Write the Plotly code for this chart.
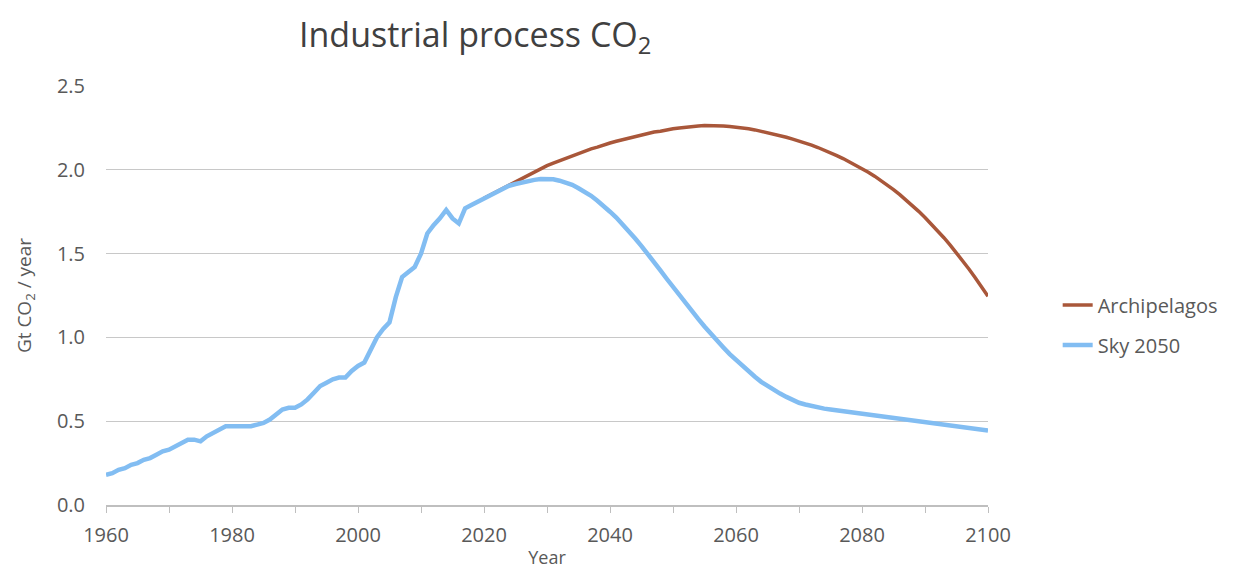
import plotly.graph_objects as go

years_sky = list(range(1960, 2101))
sky_2050 = [
    0.18, 0.19, 0.21, 0.22, 0.24, 0.25, 0.27, 0.28, 0.30, 0.32,  # 1960s
    0.33, 0.35, 0.37, 0.39, 0.39, 0.38, 0.41, 0.43, 0.45, 0.47,  # 1970s
    0.47, 0.47, 0.47, 0.47, 0.48, 0.49, 0.51, 0.54, 0.57, 0.58,  # 1980s
    0.58, 0.60, 0.63, 0.67, 0.71, 0.73, 0.75, 0.76, 0.76, 0.80,  # 1990s
    0.83, 0.85, 0.93, 1.00, 1.05, 1.09, 1.24, 1.36, 1.39, 1.42,  # 2000s
    1.50, 1.62, 1.67, 1.71, 1.76, 1.71, 1.68, 1.77, 1.79, 1.81,  # 2010s
    1.83, 1.85, 1.87, 1.89, 1.905, 1.915, 1.925, 1.935, 1.94, 1.945,  # 2020s
    1.945, 1.943, 1.935, 1.925, 1.91, 1.89, 1.87, 1.845, 1.815, 1.785,  # 2030s
    1.75, 1.715, 1.675, 1.635, 1.59, 1.545, 1.50, 1.45, 1.40, 1.35,  # 2040s
    1.30, 1.25, 1.20, 1.155, 1.11, 1.065, 1.02, 0.98, 0.94, 0.90,  # 2050s
    0.865, 0.83, 0.795, 0.765, 0.735, 0.71, 0.685, 0.665, 0.645, 0.625,  # 2060s
    0.61, 0.60, 0.59, 0.58, 0.575, 0.57, 0.565, 0.56, 0.555, 0.55,  # 2070s
    0.545, 0.54, 0.535, 0.53, 0.525, 0.52, 0.515, 0.51, 0.505, 0.50,  # 2080s
    0.495, 0.49, 0.485, 0.48, 0.475, 0.47, 0.465, 0.46, 0.455, 0.45,  # 2090s
    0.445,
]

years_arch = list(range(2020, 2101))
archipelagos = [
    1.83, 1.85, 1.87, 1.89, 1.91, 1.93, 1.95, 1.97, 1.99, 2.01,  # 2020s
    2.025, 2.04, 2.055, 2.07, 2.085, 2.10, 2.11, 2.125, 2.135, 2.15,  # 2030s
    2.16, 2.17, 2.18, 2.19, 2.20, 2.21, 2.215, 2.225, 2.23, 2.24,  # 2040s
    2.245, 2.25, 2.255, 2.258, 2.262, 2.264, 2.265, 2.264, 2.262, 2.258,  # 2050s
    2.255, 2.25, 2.245, 2.238, 2.23, 2.222, 2.213, 2.204, 2.194, 2.183,  # 2060s
    2.172, 2.16, 2.147, 2.133, 2.118, 2.102, 2.085, 2.067, 2.048, 2.028,  # 2070s
    2.008, 1.986, 1.962, 1.937, 1.91, 1.882, 1.852, 1.82, 1.787, 1.752,  # 2080s
    1.715, 1.677, 1.637, 1.595, 1.551, 1.505, 1.457, 1.407, 1.355, 1.30,  # 2090s
    1.245,
]

y_ticks = [0.0, 0.5, 1.0, 1.5, 2.0, 2.5]
y_tick_labels = ["0.0", "0.5", "1.0", "1.5", "2.0", "2.5"]
x_ticks = [1960, 1980, 2000, 2020, 2040, 2060, 2080, 2100]

BROWN = "#A9573A"
BLUE = "#82BDF2"
FONT = "Open Sans"
GREY = "#595959"

fig = go.Figure()
fig.add_trace(go.Scatter(
    x=years_arch, y=archipelagos, mode="lines", name="Archipelagos",
    line=dict(color=BROWN, width=3.5), legend="legend", showlegend=True,
))
fig.add_trace(go.Scatter(
    x=years_sky, y=sky_2050, mode="lines", name="Sky 2050",
    line=dict(color=BLUE, width=4.5), legend="legend2", showlegend=True,
))

legend_common = dict(
    xanchor="left", yanchor="middle",
    font=dict(family=FONT, size=20, color=GREY),
    bgcolor="rgba(0,0,0,0)", itemwidth=30,
)

fig.update_layout(
    width=1236, height=571,
    showlegend=True,
    margin=dict(l=98, r=256, t=78, b=74),
    paper_bgcolor="white", plot_bgcolor="white",
    title=dict(
        text="Industrial process CO<sub>2</sub>",
        x=0.378, xanchor="center", y=0.952, yanchor="middle",
        font=dict(family=FONT, size=34, color="#404040"),
    ),
    legend=dict(x=1.079, y=(505 - 305) / 419, **legend_common),
    legend2=dict(x=1.079, y=(505 - 345) / 419, **legend_common),
    xaxis=dict(
        range=[1960, 2100], tickvals=x_ticks, ticktext=[str(v) for v in x_ticks],
        showgrid=False, zeroline=False,
        showline=True, linecolor="#BFBFBF", linewidth=1.5,
        ticks="outside", ticklen=6, tickcolor="#BFBFBF",
        minor=dict(dtick=10, tick0=1960, ticks="outside", ticklen=6, tickcolor="#BFBFBF", showgrid=False),
        tickfont=dict(family=FONT, size=20, color=GREY),
        ticklabelstandoff=5,
        title=dict(text="Year", font=dict(family=FONT, size=18, color=GREY), standoff=5),
    ),
    yaxis=dict(
        range=[0, 2.5], tickvals=y_ticks, ticktext=y_tick_labels,
        showgrid=True, gridcolor="#C8C8C8", gridwidth=1,
        zeroline=False, showline=False, ticks="",
        tickfont=dict(family=FONT, size=20, color=GREY),
        ticklabelstandoff=20,
        title=dict(text="Gt CO<sub>2</sub> / year", font=dict(family=FONT, size=19, color=GREY), standoff=20),
    ),
)

fig.write_html("out.html")
